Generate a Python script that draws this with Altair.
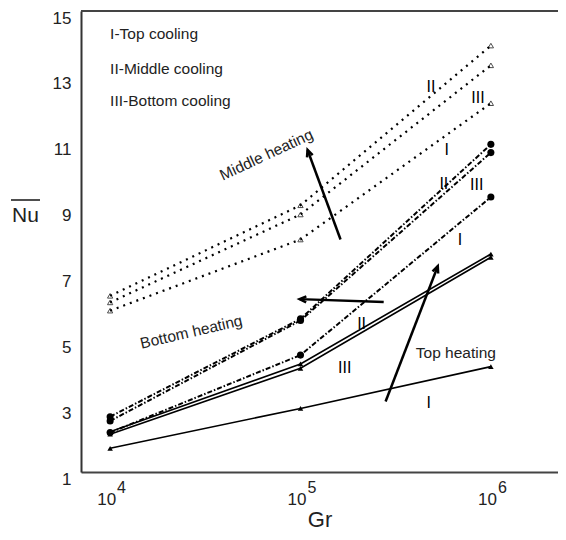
import altair as alt
import pandas as pd

FONT = "Liberation Sans"

# Data
Gr = [1e4, 1e5, 1e6]
series_names = ["mid_I", "mid_II", "mid_III", "bot_I", "bot_II", "bot_III", "top_I", "top_II", "top_III"]
series_group = ["mid", "mid", "mid", "bot", "bot", "bot", "top", "top", "top"]
mid_I = [5.9, 8.06, 12.2]
mid_II = [6.35, 9.1, 13.95]
mid_III = [6.15, 8.82, 13.35]
bot_I = [2.2, 4.55, 9.35]
bot_II = [2.68, 5.65, 10.95]
bot_III = [2.55, 5.6, 10.7]
top_I = [1.72, 2.93, 4.2]
top_II = [2.22, 4.28, 7.62]
top_III = [2.15, 4.15, 7.52]
series_vals = [mid_I, mid_II, mid_III, bot_I, bot_II, bot_III, top_I, top_II, top_III]

# x tick labels (base + exponent)
tick_base = ["10", "10", "10"]
tick_exp = ["4", "5", "6"]

# Roman numeral labels
roman_text = ["II", "III", "I", "II", "III", "I", "II", "III", "I"]
roman_gr = [485000, 855000, 586100, 566200, 843300, 687100, 209400, 170600, 472100]
roman_nu = [12.68, 12.35, 10.78, 9.75, 9.72, 8.06, 5.50, 4.17, 3.11]

# Legend-like texts
legend_text = ["I-Top cooling", "II-Middle cooling", "III-Bottom cooling"]
legend_nu = [14.3, 13.25, 12.26]

# Heating annotations
heat_text = ["Middle heating", "Bottom heating", "Top heating"]
heat_gr = [66220, 26680, 654600]
heat_nu = [10.63, 5.25, 4.62]
heat_angle = [335, 347, 0]

# Arrows (tail -> head)
arrow_name = ["Middle", "Bottom", "Top"]
arrow_tail_gr = [162300, 273500, 279900]
arrow_tail_nu = [8.06, 6.16, 3.14]
arrow_head_gr = [108900, 98860, 526000]
arrow_head_nu = [10.78, 6.25, 7.25]
arrow_angle = [340, 272, 21]

rows = []
for n, g, vals in zip(series_names, series_group, series_vals):
    for x, y in zip(Gr, vals):
        rows.append({"series": n, "group": g, "Gr": x, "Nu": y})
df = pd.DataFrame(rows)

PT = 3
W, H = 477, 461
xscale = alt.Scale(type="log", domain=[7031, 2252000], nice=False)
yscale = alt.Scale(domain=[1, 15], nice=False, zero=False)

xenc = alt.X("Gr:Q", scale=xscale, axis=alt.Axis(
    values=[10000, 100000, 1000000],
    labelExpr="'10'", labelOffset=-4,
    tickSize=0, grid=False, labelFontSize=17, labelPadding=19, labelFont=FONT,
    labelColor="#222", domainColor="#444", domainWidth=2,
    title="Gr", titleFont=FONT, titleFontSize=22, titleFontWeight="normal",
    titleBaseline="alphabetic", titleY=54, titleColor="#222"))
yenc = alt.Y("Nu:Q", scale=yscale, axis=alt.Axis(
    values=[1, 3, 5, 7, 9, 11, 13, 15], tickSize=0, grid=False,
    labelFontSize=17, labelPadding=10, labelFont=FONT, labelOffset=7, labelColor="#222",
    domainColor="#333", domainWidth=2,
    title="Nu", titleAngle=0, titleX=-56, titleY=207 - PT, titleAlign="center",
    titleBaseline="middle", titleFont=FONT, titleFontSize=21, titleFontWeight="normal",
    titleColor="#222"))

base = alt.Chart(df)

mid = base.transform_filter("datum.group == 'mid'").mark_line(
    color="black", strokeWidth=2.2, strokeDash=[2, 5], strokeCap="butt").encode(
    x=xenc, y=yenc, detail="series:N")
mid_pts = base.transform_filter("datum.group == 'mid'").mark_point(
    shape="triangle-up", filled=False, color="black", size=28, strokeWidth=1).encode(
    x="Gr:Q", y="Nu:Q")

bot = base.transform_filter("datum.group == 'bot'").mark_line(
    color="black", strokeWidth=2, strokeDash=[5, 2, 1.5, 2]).encode(
    x="Gr:Q", y="Nu:Q", detail="series:N")
bot_pts = base.transform_filter("datum.group == 'bot'").mark_point(
    shape="circle", filled=True, color="black", size=50, opacity=1).encode(
    x="Gr:Q", y="Nu:Q")

top = base.transform_filter("datum.group == 'top'").mark_line(
    color="black", strokeWidth=1.6).encode(
    x="Gr:Q", y="Nu:Q", detail="series:N")
top_pts = base.transform_filter("datum.group == 'top'").mark_point(
    shape="triangle-up", filled=True, color="black", size=30, opacity=1).encode(
    x="Gr:Q", y="Nu:Q")

roman_df = pd.DataFrame({"t": roman_text, "Gr": roman_gr, "Nu": roman_nu})
roman = alt.Chart(roman_df).mark_text(font=FONT, fontSize=16, color="black").encode(
    x="Gr:Q", y="Nu:Q", text="t:N")

leg_df = pd.DataFrame({"t": legend_text, "Gr": [Gr[0]] * 3, "Nu": legend_nu})
leg = alt.Chart(leg_df).mark_text(font=FONT, fontSize=15.5, color="#222", align="left").encode(
    x="Gr:Q", y="Nu:Q", text="t:N")

heat_df = pd.DataFrame({"t": heat_text, "Gr": heat_gr, "Nu": heat_nu, "a": heat_angle})
heat = alt.Chart(heat_df).mark_text(font=FONT, fontSize=15.5, color="#222").encode(
    x="Gr:Q", y="Nu:Q", text="t:N", angle=alt.Angle("a:Q", scale=None))

exp_df = pd.DataFrame({"b": tick_base, "e": tick_exp, "Gr": Gr})
exps = alt.Chart(exp_df).mark_text(font=FONT, fontSize=16, color="#222", align="left",
                                   baseline="middle", dx=7).encode(
    x="Gr:Q", y=alt.value(H + 16), text="e:N")

arr_rows = []
for nm, tg, tn, hg, hn in zip(arrow_name, arrow_tail_gr, arrow_tail_nu, arrow_head_gr, arrow_head_nu):
    arr_rows.append({"a": nm, "Gr": tg, "Nu": tn, "o": 0})
    arr_rows.append({"a": nm, "Gr": hg, "Nu": hn, "o": 1})
arr_df = pd.DataFrame(arr_rows)
shafts = alt.Chart(arr_df).mark_line(color="black", strokeWidth=2.5).encode(
    x="Gr:Q", y="Nu:Q", detail="a:N", order="o:Q")
head_df = pd.DataFrame({"Gr": arrow_head_gr, "Nu": arrow_head_nu, "ang": arrow_angle})
heads = alt.Chart(head_df).mark_point(
    shape="M -0.45 1 L 0 0 L 0.45 1", filled=False, color="black", strokeWidth=2.5,
    size=180, opacity=1).encode(
    x="Gr:Q", y="Nu:Q", angle=alt.Angle("ang:Q", scale=None))

# top frame line and overline over Nu
top_line = alt.Chart(pd.DataFrame({"k": [0]})).mark_rule(color="#444", strokeWidth=2).encode(
    x=alt.value(0), x2=alt.value(W), y=alt.value(0))
overline = alt.Chart(pd.DataFrame({"k": [0]})).mark_rule(color="#222", strokeWidth=1.6).encode(
    x=alt.value(-70), x2=alt.value(-41), y=alt.value(192 - PT))

chart = alt.layer(mid, mid_pts, bot, bot_pts, top, top_pts, roman, leg, heat, exps, shafts, heads,
                  top_line, overline).properties(
    width=W, height=H,
    autosize=alt.AutoSizeParams(type="none"),
    padding={"left": 73, "top": PT, "right": 0, "bottom": 60},
).configure_view(stroke=None).configure(background="white")

chart.save("out.html", embed_options={"renderer": "svg", "actions": False})
